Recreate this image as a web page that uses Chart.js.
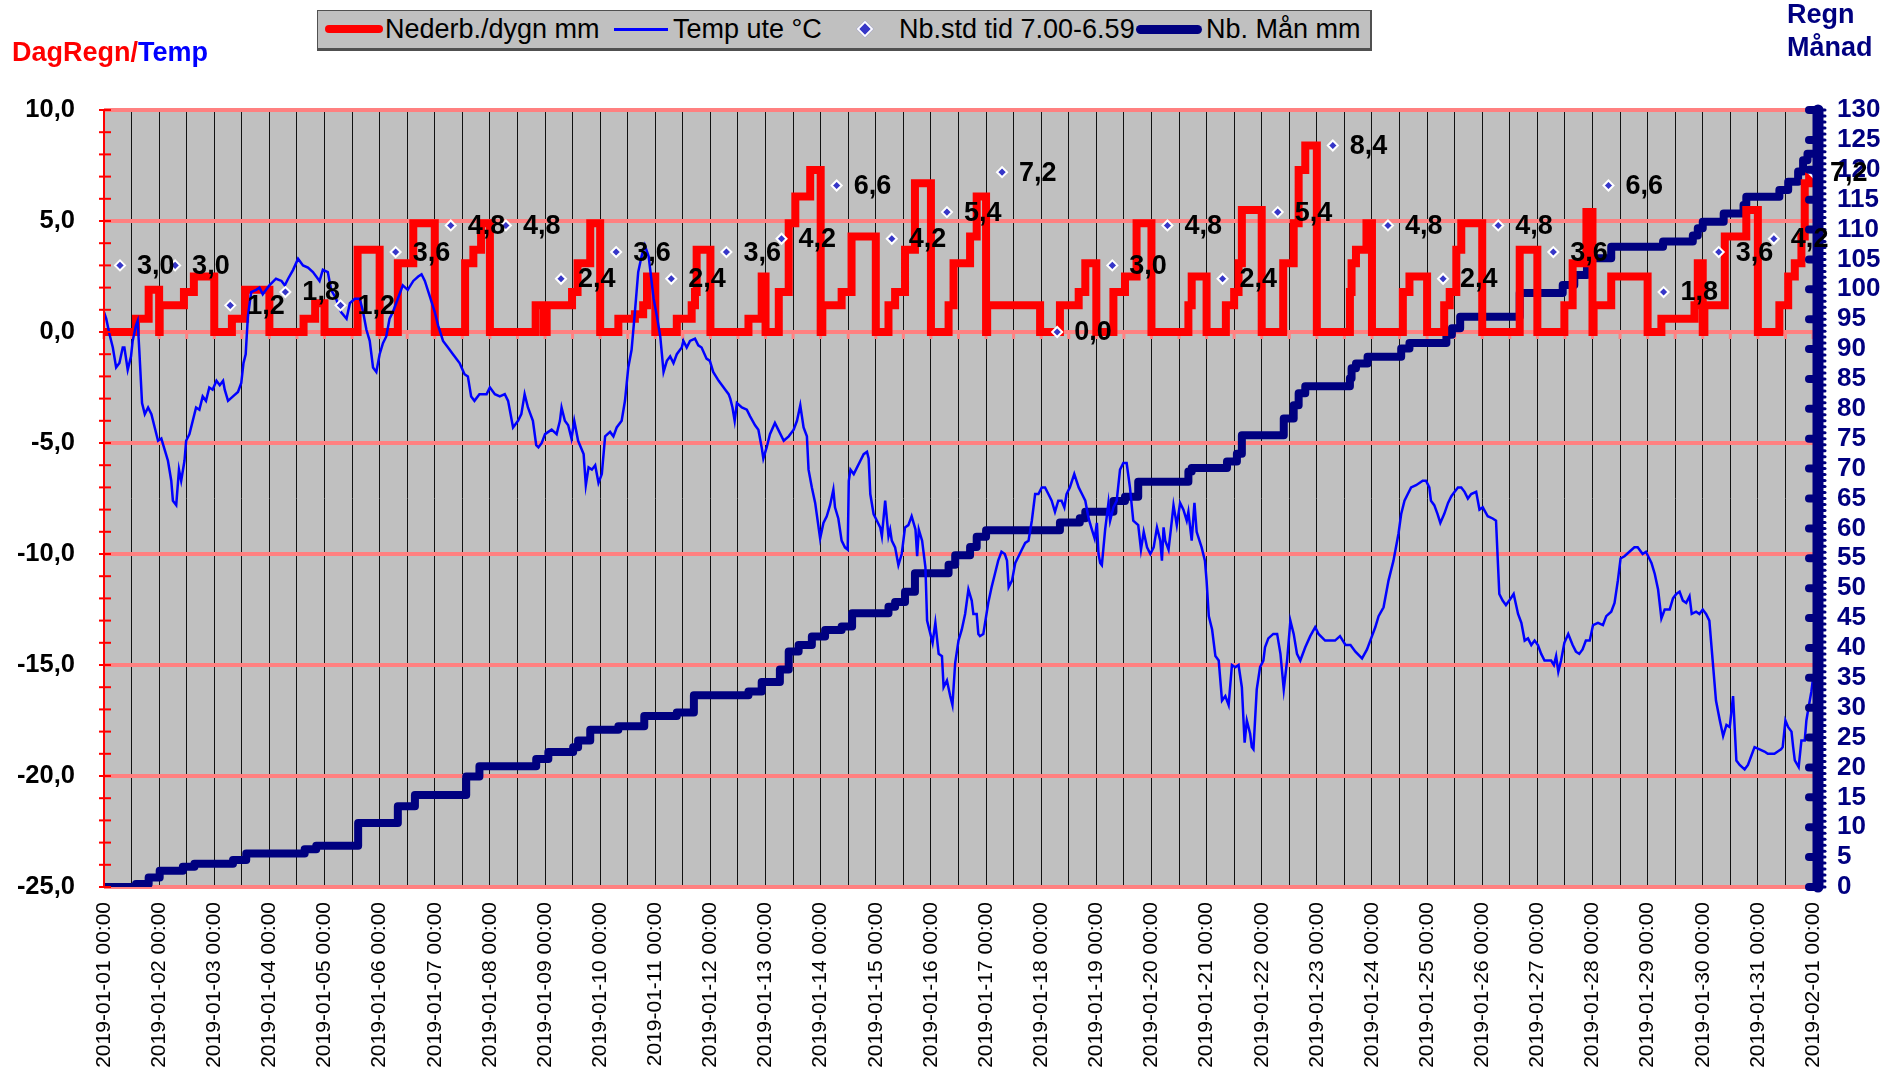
<!DOCTYPE html>
<html lang="sv">
<head>
<meta charset="utf-8">
<title>DagRegn/Temp</title>
<script src="https://cdn.jsdelivr.net/npm/chart.js@4.4.1/dist/chart.umd.min.js"></script>
<style>
  html, body { margin: 0; padding: 0; background: #fff; }
  #wrap { position: relative; width: 1899px; height: 1075px; overflow: hidden; font-family: Arial, "Liberation Sans", sans-serif; }
  #chart { position: absolute; left: 0; top: 0; }
  .title { position: absolute; font-weight: bold; font-size: 27px; white-space: nowrap; line-height: 30px; }
  #leftTitle { left: 12px; top: 37px; }
  #rightTitle { left: 1787px; top: -2px; color: #000080; line-height: 33px; }
  #legend { position: absolute; left: 317px; top: 10px; width: 1052px; height: 37px; background: #c0c0c0;
            border: 1px solid #505050; border-bottom-width: 3px; border-right-width: 2px; }
  #legend .txt { position: absolute; top: 0; height: 37px; line-height: 37px; font-size: 27px; white-space: nowrap; color: #000; }
  #legend .smp { position: absolute; }
</style>
</head>
<body>
<div id="wrap">
  <canvas id="chart" width="1899" height="1075"></canvas>
  <div class="title" id="leftTitle"><span style="color:#ff0000">DagRegn/</span><span style="color:#0000ff">Temp</span></div>
  <div class="title" id="rightTitle">Regn<br>Månad</div>
  <div id="legend">
    <div class="smp" style="left:7px; top:14px; width:58px; height:8px; background:#ff0000; border-radius:4px;"></div>
    <div class="txt" style="left:67px;">Nederb./dygn mm</div>
    <div class="smp" style="left:296px; top:17px; width:54px; height:3px; background:#0000ff;"></div>
    <div class="txt" style="left:355px;">Temp ute °C</div>
    <div class="smp" style="left:541px; top:12px; width:8px; height:8px; background:#3636c8; border:2px solid #fff; transform:rotate(45deg);"></div>
    <div class="txt" style="left:581px;">Nb.std tid 7.00-6.59</div>
    <div class="smp" style="left:818px; top:14px; width:66px; height:9px; background:#000080; border-radius:5px;"></div>
    <div class="txt" style="left:888px;">Nb. Mån mm</div>
  </div>
</div>
<script>
// Tick labels for the x axis (one per midnight)
const dateLabels = [
  '2019-01-01 00:00', '2019-01-02 00:00', '2019-01-03 00:00', '2019-01-04 00:00', '2019-01-05 00:00',
  '2019-01-06 00:00', '2019-01-07 00:00', '2019-01-08 00:00', '2019-01-09 00:00', '2019-01-10 00:00',
  '2019-01-11 00:00', '2019-01-12 00:00', '2019-01-13 00:00', '2019-01-14 00:00', '2019-01-15 00:00',
  '2019-01-16 00:00', '2019-01-17 00:00', '2019-01-18 00:00', '2019-01-19 00:00', '2019-01-20 00:00',
  '2019-01-21 00:00', '2019-01-22 00:00', '2019-01-23 00:00', '2019-01-24 00:00', '2019-01-25 00:00',
  '2019-01-26 00:00', '2019-01-27 00:00', '2019-01-28 00:00', '2019-01-29 00:00', '2019-01-30 00:00',
  '2019-01-31 00:00', '2019-02-01 00:00'
];

// Daily rain, [day, mm] - value holds from that time on
const rainSteps = [
  [0, 0], [0.58, 0.6], [0.81, 1.9], [1.0, 0], [1.01, 1.2], [1.45, 1.8], [1.63, 2.5], [2.0, 0],
  [2.32, 0.6], [2.56, 1.9], [3.0, 0], [3.62, 0.6], [3.83, 1.3], [4.0, 0], [4.6, 3.7], [5.0, 0],
  [5.33, 3.1], [5.61, 4.9], [6.0, 0], [6.55, 3.1], [6.7, 3.7], [6.84, 4.9], [7.0, 0],
  [7.83, 1.2], [7.98, 0], [8.03, 1.2], [8.49, 1.8], [8.59, 3.1], [8.82, 4.9], [9.0, 0],
  [9.33, 0.6], [9.63, 0.8], [9.78, 1.2], [9.85, 2.5], [10.0, 0],
  [10.39, 0.6], [10.66, 1.2], [10.72, 1.8], [10.75, 3.7], [11.0, 0],
  [11.69, 0.6], [11.93, 2.5], [12.0, 0], [12.24, 1.8], [12.42, 4.9], [12.54, 6.1], [12.81, 7.3], [13.0, 0],
  [13.03, 1.2], [13.38, 1.8], [13.56, 4.3], [14.0, 0],
  [14.23, 1.2], [14.35, 1.8], [14.53, 3.7], [14.71, 6.7], [15.0, 0],
  [15.32, 1.2], [15.41, 3.1], [15.71, 4.3], [15.83, 6.1], [16.0, 0], [16.02, 1.2], [16.98, 0],
  [17.34, 1.2], [17.68, 1.8], [17.8, 3.1], [18.0, 0],
  [18.31, 1.8], [18.52, 2.5], [18.73, 4.9], [19.0, 0],
  [19.67, 1.2], [19.73, 2.5], [20.0, 0],
  [20.35, 1.2], [20.5, 1.8], [20.58, 3.1], [20.64, 5.5], [21.0, 0],
  [21.39, 3.1], [21.58, 4.9], [21.67, 7.3], [21.79, 8.4], [22.0, 0],
  [22.6, 1.8], [22.63, 3.1], [22.71, 3.7], [22.9, 4.9], [23.0, 0],
  [23.56, 1.8], [23.68, 2.5], [24.0, 0],
  [24.31, 1.2], [24.41, 1.8], [24.53, 3.7], [24.62, 4.9], [25.0, 0],
  [25.68, 3.7], [26.0, 0],
  [26.49, 1.2], [26.64, 3.1], [26.89, 5.4], [27.0, 0], [27.02, 1.2], [27.34, 2.5], [28.0, 0],
  [28.25, 0.6], [28.85, 1.2], [28.91, 3.1], [29.0, 0], [29.03, 1.2], [29.4, 4.3], [29.79, 5.5], [30.0, 0],
  [30.39, 1.2], [30.55, 2.5], [30.67, 3.1], [30.79, 4.3], [30.85, 6.7], [30.93, 7.0], [31.0, 7.0]
];

// Month total, [day, mm] on the right axis
const monthSteps = [
  [0, 0], [0.58, 0.5], [0.81, 1.6], [1.01, 2.7], [1.43, 3.4], [1.64, 3.9], [2.34, 4.5], [2.58, 5.6],
  [3.64, 6.3], [3.85, 6.9], [4.61, 10.7], [5.33, 13.5], [5.64, 15.4], [6.57, 18.5], [6.81, 20.2],
  [7.84, 21.4], [8.06, 22.6], [8.51, 23.4], [8.6, 24.5], [8.82, 26.3], [9.33, 26.9], [9.8, 28.6],
  [10.39, 29.2], [10.7, 32.1], [11.69, 32.7], [11.93, 34.3], [12.26, 36.4], [12.42, 39.4], [12.6, 40.5],
  [12.84, 41.9], [13.08, 43.0], [13.38, 43.6], [13.57, 45.8], [14.23, 46.9], [14.35, 47.7], [14.53, 49.4],
  [14.71, 52.5], [15.32, 53.9], [15.44, 55.5], [15.71, 56.9], [15.83, 58.6], [16.0, 59.7],
  [17.34, 61.0], [17.7, 61.7], [17.8, 62.8], [18.31, 64.6], [18.52, 65.3], [18.76, 67.8],
  [19.67, 69.5], [19.73, 70.1], [20.37, 71.2], [20.55, 72.5], [20.64, 75.6],
  [21.4, 78.4], [21.58, 80.6], [21.67, 82.6], [21.79, 83.8], [22.6, 85.1], [22.63, 86.8], [22.71, 87.6],
  [22.92, 88.7], [23.53, 90.1], [23.68, 91.0], [24.35, 92.4], [24.45, 93.5], [24.6, 95.4],
  [25.68, 99.4], [26.46, 100.7], [26.67, 102.4], [26.9, 105.2], [27.34, 107.1], [28.28, 108.0],
  [28.82, 109.0], [28.91, 110.2], [29.0, 111.3], [29.38, 112.7], [29.74, 114.1], [29.79, 115.5],
  [30.39, 116.6], [30.55, 118.0], [30.73, 119.7], [30.82, 121.6], [30.9, 122.7], [31.0, 122.7]
];

// Outdoor temperature, [day, °C]
const tempSeries = [
  [0.00,0.9],[0.04,0.6],[0.10,-0.1],[0.16,-0.7],[0.22,-1.6],[0.28,-1.4],[0.34,-0.7],[0.37,-0.7],[0.43,-1.7],
  [0.49,-1.1],[0.52,-0.4],[0.58,0.3],[0.61,0.5],[0.64,-0.8],[0.69,-3.2],[0.74,-3.7],[0.80,-3.4],[0.86,-3.7],
  [0.92,-4.3],[0.98,-4.9],[1.04,-4.8],[1.10,-5.3],[1.16,-5.8],[1.22,-6.7],[1.25,-7.6],[1.31,-7.8],[1.36,-6.2],
  [1.40,-6.7],[1.46,-5.8],[1.49,-4.9],[1.55,-4.6],[1.67,-3.4],[1.73,-3.5],[1.79,-2.9],[1.85,-3.1],[1.91,-2.5],
  [1.97,-2.6],[2.04,-2.2],[2.10,-2.4],[2.16,-2.2],[2.19,-2.6],[2.25,-3.1],[2.34,-2.9],[2.43,-2.7],[2.49,-2.3],
  [2.53,-1.4],[2.57,-1.0],[2.61,0.7],[2.67,1.8],[2.76,1.9],[2.82,2.0],[2.88,1.7],[2.94,1.9],[3.00,2.1],
  [3.12,2.4],[3.22,2.3],[3.28,2.1],[3.34,2.4],[3.43,2.8],[3.52,3.3],[3.61,3.0],[3.70,2.9],[3.79,2.7],
  [3.91,2.3],[3.97,2.8],[4.06,2.7],[4.12,1.9],[4.21,1.5],[4.30,0.9],[4.40,0.6],[4.46,1.3],[4.55,1.5],
  [4.64,1.5],[4.70,0.9],[4.76,0.1],[4.82,-0.4],[4.88,-1.6],[4.94,-1.8],[5.00,-1.0],[5.06,-0.5],[5.12,-0.2],
  [5.18,0.6],[5.24,0.9],[5.33,1.5],[5.42,2.1],[5.51,1.9],[5.61,2.3],[5.70,2.5],[5.76,2.6],[5.82,2.3],
  [5.91,1.6],[6.00,0.9],[6.06,0.3],[6.15,-0.4],[6.24,-0.7],[6.33,-1.0],[6.45,-1.4],[6.54,-1.9],[6.60,-2.0],
  [6.66,-2.9],[6.72,-3.1],[6.81,-2.8],[6.94,-2.8],[7.00,-2.5],[7.09,-2.8],[7.18,-2.9],[7.27,-2.8],[7.33,-3.1],
  [7.42,-4.3],[7.51,-4.0],[7.57,-3.7],[7.63,-2.8],[7.69,-3.4],[7.78,-4.0],[7.84,-5.1],[7.88,-5.2],[7.94,-5.0],
  [8.00,-4.6],[8.06,-4.5],[8.12,-4.4],[8.21,-4.6],[8.27,-4.0],[8.30,-3.4],[8.36,-4.0],[8.42,-4.2],[8.48,-4.8],
  [8.53,-4.0],[8.60,-4.9],[8.70,-5.5],[8.74,-6.9],[8.79,-6.1],[8.85,-6.2],[8.91,-6.0],[8.97,-6.8],[9.03,-6.4],
  [9.09,-4.7],[9.18,-4.5],[9.24,-4.7],[9.30,-4.3],[9.39,-4.0],[9.45,-3.1],[9.51,-1.6],[9.57,-0.8],[9.63,0.9],
  [9.69,2.7],[9.75,3.4],[9.81,3.9],[9.88,3.4],[9.97,1.5],[10.03,0.7],[10.09,-0.2],[10.15,-1.8],[10.21,-1.3],
  [10.27,-1.1],[10.33,-1.4],[10.39,-1.0],[10.48,-0.7],[10.51,-0.4],[10.57,-0.7],[10.63,-0.4],[10.72,-0.3],
  [10.78,-0.6],[10.84,-0.7],[10.93,-1.2],[10.99,-1.3],[11.05,-1.8],[11.15,-2.2],[11.21,-2.4],[11.27,-2.6],
  [11.33,-2.8],[11.36,-3.0],[11.40,-3.4],[11.44,-4.0],[11.48,-3.2],[11.57,-3.4],[11.66,-3.5],[11.72,-3.8],
  [11.81,-4.2],[11.87,-4.4],[11.93,-5.2],[11.96,-5.7],[12.02,-5.2],[12.08,-4.6],[12.17,-4.1],[12.23,-4.4],
  [12.33,-4.9],[12.42,-4.7],[12.51,-4.4],[12.57,-4.0],[12.63,-3.3],[12.69,-4.3],[12.75,-4.7],[12.78,-6.2],
  [12.84,-7.0],[12.90,-7.7],[12.99,-9.3],[13.05,-8.6],[13.11,-8.3],[13.17,-7.8],[13.23,-7.1],[13.26,-7.9],
  [13.32,-8.4],[13.38,-9.4],[13.44,-9.7],[13.49,-9.8],[13.51,-6.7],[13.54,-6.2],[13.60,-6.4],[13.66,-6.1],
  [13.72,-5.8],[13.78,-5.5],[13.84,-5.4],[13.87,-5.7],[13.90,-7.3],[13.96,-8.2],[14.02,-8.5],[14.08,-8.8],
  [14.11,-9.2],[14.17,-7.6],[14.23,-9.2],[14.26,-8.9],[14.29,-9.4],[14.35,-9.7],[14.41,-10.5],[14.47,-10.0],
  [14.53,-8.8],[14.59,-8.7],[14.65,-8.3],[14.72,-8.9],[14.75,-10.1],[14.78,-8.9],[14.84,-9.4],[14.90,-10.6],
  [14.93,-13.0],[14.99,-13.6],[15.03,-14.0],[15.08,-13.1],[15.14,-14.5],[15.20,-14.6],[15.23,-16.0],
  [15.29,-15.7],[15.35,-16.4],[15.39,-16.8],[15.44,-14.9],[15.50,-13.9],[15.56,-13.4],[15.62,-12.7],
  [15.68,-11.6],[15.74,-12.1],[15.77,-12.7],[15.83,-12.7],[15.86,-13.6],[15.89,-13.7],[15.95,-13.6],
  [16.04,-12.2],[16.10,-11.5],[16.16,-10.9],[16.22,-10.3],[16.28,-9.9],[16.34,-10.0],[16.38,-10.3],
  [16.41,-11.5],[16.47,-11.2],[16.53,-10.4],[16.59,-10.1],[16.65,-9.8],[16.71,-9.5],[16.77,-9.4],[16.83,-8.5],
  [16.89,-7.3],[16.95,-7.3],[17.01,-7.0],[17.07,-7.0],[17.13,-7.3],[17.19,-7.6],[17.25,-8.1],[17.31,-7.6],
  [17.37,-7.6],[17.42,-7.9],[17.46,-7.3],[17.52,-7.0],[17.60,-6.4],[17.68,-7.0],[17.74,-7.3],[17.80,-7.6],
  [17.86,-8.4],[17.92,-8.9],[17.97,-9.3],[18.01,-8.6],[18.04,-10.0],[18.07,-10.4],[18.10,-10.5],[18.16,-8.9],
  [18.22,-7.7],[18.25,-8.5],[18.31,-7.9],[18.37,-7.6],[18.43,-6.2],[18.49,-5.9],[18.55,-5.9],[18.61,-7.0],
  [18.67,-8.5],[18.76,-8.7],[18.81,-9.8],[18.86,-9.0],[18.92,-9.7],[18.98,-10.0],[19.04,-9.7],[19.10,-8.8],
  [19.16,-9.4],[19.19,-10.3],[19.22,-8.8],[19.25,-9.4],[19.31,-9.8],[19.37,-8.5],[19.40,-7.8],[19.46,-8.7],
  [19.52,-7.7],[19.58,-8.0],[19.64,-8.5],[19.67,-8.1],[19.73,-9.4],[19.78,-7.7],[19.82,-9.0],[19.91,-9.7],
  [19.97,-10.3],[20.00,-11.2],[20.04,-12.8],[20.10,-13.4],[20.16,-14.6],[20.22,-14.8],[20.28,-16.6],
  [20.34,-16.4],[20.40,-16.8],[20.46,-15.0],[20.52,-15.1],[20.58,-15.0],[20.64,-16.0],[20.69,-18.5],
  [20.73,-17.5],[20.79,-18.1],[20.82,-18.7],[20.85,-18.8],[20.91,-16.1],[20.97,-15.1],[21.03,-14.8],
  [21.06,-14.2],[21.12,-13.8],[21.21,-13.6],[21.28,-13.6],[21.34,-14.5],[21.40,-16.1],[21.46,-14.8],
  [21.52,-13.0],[21.58,-13.6],[21.64,-14.5],[21.70,-14.8],[21.79,-14.2],[21.88,-13.7],[21.97,-13.3],
  [22.03,-13.6],[22.15,-13.9],[22.24,-13.9],[22.33,-13.9],[22.42,-13.7],[22.52,-14.1],[22.61,-14.1],
  [22.70,-14.4],[22.82,-14.7],[22.91,-14.3],[23.00,-13.7],[23.06,-13.3],[23.12,-12.8],[23.21,-12.4],
  [23.30,-11.2],[23.39,-10.3],[23.48,-9.1],[23.53,-8.2],[23.59,-7.6],[23.65,-7.3],[23.71,-7.0],[23.80,-6.9],
  [23.86,-6.8],[23.92,-6.7],[23.98,-6.7],[24.04,-7.0],[24.07,-7.6],[24.13,-7.8],[24.19,-8.2],[24.24,-8.6],
  [24.31,-8.2],[24.38,-7.7],[24.44,-7.4],[24.50,-7.2],[24.56,-7.0],[24.62,-7.0],[24.68,-7.2],[24.74,-7.5],
  [24.80,-7.3],[24.89,-7.2],[24.95,-8.0],[25.01,-7.9],[25.10,-8.3],[25.19,-8.4],[25.25,-8.5],[25.31,-11.8],
  [25.37,-12.1],[25.43,-12.3],[25.49,-12.1],[25.57,-11.8],[25.65,-12.7],[25.71,-13.1],[25.77,-13.9],
  [25.83,-13.8],[25.89,-14.1],[25.95,-13.9],[26.01,-14.1],[26.07,-14.5],[26.13,-14.8],[26.19,-14.8],
  [26.25,-14.8],[26.30,-15.0],[26.34,-14.6],[26.38,-15.3],[26.43,-14.8],[26.49,-14.0],[26.56,-13.6],
  [26.64,-14.1],[26.70,-14.4],[26.76,-14.5],[26.82,-14.3],[26.88,-13.9],[26.95,-13.9],[27.01,-13.2],
  [27.10,-13.1],[27.19,-13.2],[27.25,-12.8],[27.34,-12.6],[27.40,-12.2],[27.46,-11.2],[27.51,-10.2],
  [27.58,-10.1],[27.67,-9.9],[27.76,-9.7],[27.82,-9.7],[27.91,-10.0],[27.97,-9.9],[28.07,-10.4],[28.13,-10.9],
  [28.19,-11.6],[28.25,-12.9],[28.31,-12.5],[28.40,-12.5],[28.46,-12.0],[28.52,-11.8],[28.58,-11.7],
  [28.64,-12.1],[28.70,-12.2],[28.76,-11.9],[28.80,-12.7],[28.88,-12.6],[28.94,-12.7],[29.00,-12.5],
  [29.06,-12.7],[29.12,-13.0],[29.18,-14.8],[29.24,-16.6],[29.31,-17.5],[29.37,-18.2],[29.43,-17.7],
  [29.49,-17.8],[29.55,-16.4],[29.61,-19.3],[29.67,-19.5],[29.76,-19.7],[29.82,-19.5],[29.88,-19.1],
  [29.94,-18.7],[30.03,-18.8],[30.12,-18.9],[30.18,-19.0],[30.24,-19.0],[30.30,-19.0],[30.36,-18.9],
  [30.42,-18.8],[30.45,-18.7],[30.50,-17.5],[30.55,-17.8],[30.61,-18.0],[30.64,-18.7],[30.67,-19.3],
  [30.74,-19.6],[30.79,-18.4],[30.85,-18.4],[30.88,-17.5],[30.92,-16.9],[30.97,-16.2],[31.00,-15.6]
];

// Daily totals (7.00-6.59), shown as diamonds with labels
const dailyDays = [
  0.29, 1.29, 2.29, 3.29, 4.29, 5.29, 6.29, 7.29, 8.29, 9.29, 10.29, 11.29, 12.29, 13.29, 14.29, 15.29,
  16.29, 17.29, 18.29, 19.29, 20.29, 21.29, 22.29, 23.29, 24.29, 25.29, 26.29, 27.29, 28.29, 29.29, 30.29, 31.0
];
const dailyTotals = [
  3.0, 3.0, 1.2, 1.8, 1.2, 3.6, 4.8, 4.8, 2.4, 3.6, 2.4, 3.6, 4.2, 6.6, 4.2, 5.4,
  7.2, 0.0, 3.0, 4.8, 2.4, 5.4, 8.4, 4.8, 2.4, 4.8, 3.6, 6.6, 1.8, 3.6, 4.2, 7.2
];

const FONT = 'Arial, "Liberation Sans", sans-serif';
Chart.defaults.font.family = FONT;

// 3.6 -> "3,6"
function comma(v) {
  return Number(v).toFixed(1).replace('.', ',');
}

function toPoints(pairs) {
  return pairs.map(p => ({ x: p[0], y: p[1] }));
}

// Grey plot area, axis decorations and the labels next to the diamonds
const chartExtras = {
  id: 'chartExtras',
  beforeDraw(chart) {
    const { ctx, chartArea: a } = chart;
    ctx.save();
    ctx.fillStyle = '#c0c0c0';
    ctx.fillRect(a.left, a.top, a.right - a.left, a.bottom - a.top);
    ctx.restore();
  },
  beforeDatasetsDraw(chart) {
    const { ctx, scales } = chart;
    const y0 = scales.y.getPixelForValue(0);
    ctx.save();
    ctx.strokeStyle = '#ff8080';
    ctx.lineWidth = 3;
    scales.x.ticks.forEach(t => {
      const px = scales.x.getPixelForValue(t.value);
      ctx.beginPath();
      ctx.moveTo(px, y0);
      ctx.lineTo(px, y0 + 7);
      ctx.stroke();
    });
    ctx.restore();
  },
  afterDatasetsDraw(chart) {
    const { ctx, chartArea: a, scales } = chart;
    ctx.save();

    // left axis in red, small tick every degree
    ctx.strokeStyle = '#ff0000';
    ctx.lineWidth = 2;
    ctx.beginPath();
    ctx.moveTo(a.left, a.top);
    ctx.lineTo(a.left, a.bottom);
    ctx.stroke();
    for (let v = scales.y.min; v <= scales.y.max; v++) {
      const py = scales.y.getPixelForValue(v);
      ctx.beginPath();
      ctx.moveTo(a.left - 5, py);
      ctx.lineTo(a.left + 7, py);
      ctx.stroke();
    }

    // right axis, thick navy with round ticks
    const ax = a.right + 5;
    ctx.strokeStyle = '#000080';
    ctx.lineCap = 'round';
    ctx.lineWidth = 11;
    ctx.beginPath();
    ctx.moveTo(ax, a.top);
    ctx.lineTo(ax, a.bottom);
    ctx.stroke();
    ctx.lineWidth = 8;
    scales.y2.ticks.forEach(t => {
      const py = scales.y2.getPixelForValue(t.value);
      ctx.beginPath();
      ctx.moveTo(a.right - 4, py);
      ctx.lineTo(a.right + 2, py);
      ctx.stroke();
    });
    ctx.lineWidth = 3;
    for (let v = scales.y2.min; v <= scales.y2.max; v++) {
      const py = scales.y2.getPixelForValue(v);
      ctx.beginPath();
      ctx.moveTo(ax + 5, py);
      ctx.lineTo(ax + 7, py);
      ctx.stroke();
    }
    ctx.restore();
  },
  afterDraw(chart) {
    const { ctx } = chart;
    const meta = chart.getDatasetMeta(0);
    ctx.save();
    ctx.font = 'bold 27px ' + FONT;
    ctx.fillStyle = '#000';
    ctx.textAlign = 'left';
    ctx.textBaseline = 'middle';
    meta.data.forEach((pt, i) => {
      ctx.fillText(comma(dailyTotals[i]), pt.x + 17, pt.y + 1);
    });
    ctx.restore();
  }
};

const ctx = document.getElementById('chart').getContext('2d');

const config = {
  type: 'line',
  data: {
    datasets: [
      {
        label: 'Nb.std tid 7.00-6.59',
        data: dailyDays.map((d, i) => ({ x: d, y: dailyTotals[i] })),
        showLine: false,
        pointStyle: 'rectRot',
        pointRadius: 5,
        pointBackgroundColor: '#3636c8',
        pointBorderColor: '#ffffff',
        pointBorderWidth: 2,
        yAxisID: 'y',
        order: 0
      },
      {
        label: 'Temp ute °C',
        data: toPoints(tempSeries),
        borderColor: '#0000ff',
        borderWidth: 2.5,
        pointRadius: 0,
        tension: 0,
        yAxisID: 'y',
        order: 1
      },
      {
        label: 'Nederb./dygn mm',
        data: toPoints(rainSteps),
        borderColor: '#ff0000',
        borderWidth: 8,
        stepped: true,
        pointRadius: 0,
        yAxisID: 'y',
        order: 2
      },
      {
        label: 'Nb. Mån mm',
        data: toPoints(monthSteps),
        borderColor: '#000080',
        borderWidth: 8,
        stepped: true,
        borderJoinStyle: 'round',
        borderCapStyle: 'round',
        pointRadius: 0,
        yAxisID: 'y2',
        order: 3
      }
    ]
  },
  options: {
    responsive: false,
    animation: false,
    events: [],
    layout: { padding: { top: 110, left: 0, right: 0, bottom: 0 } },
    plugins: {
      legend: { display: false },
      tooltip: { enabled: false }
    },
    scales: {
      x: {
        type: 'linear',
        position: 'bottom',
        min: 0,
        max: 31,
        afterFit: s => { s.height = 188; },
        grid: { color: '#111111', lineWidth: 1, drawTicks: false },
        border: { display: false },
        ticks: {
          stepSize: 0.5,
          autoSkip: false,
          minRotation: 90,
          maxRotation: 90,
          padding: 15,
          color: '#000',
          font: { size: 21 },
          callback: v => (Number.isInteger(v) ? dateLabels[v] : '')
        }
      },
      y: {
        position: 'left',
        min: -25,
        max: 10,
        afterFit: s => { s.width = 104; },
        grid: { color: '#ff8080', lineWidth: 4, drawTicks: false },
        border: { display: false },
        ticks: {
          stepSize: 5,
          autoSkip: false,
          padding: 29,
          color: '#000',
          font: { size: 25.5, weight: 'bold' },
          callback: v => comma(v)
        }
      },
      y2: {
        position: 'right',
        min: 0,
        max: 130,
        afterFit: s => { s.width = 86; },
        grid: { drawOnChartArea: false, drawTicks: false },
        border: { display: false },
        ticks: {
          stepSize: 5,
          autoSkip: false,
          padding: 24,
          color: '#000080',
          font: { size: 26, weight: 'bold' }
        }
      }
    }
  },
  plugins: [chartExtras]
};

// Crear la gráfica
const rainChart = new Chart(ctx, config);
</script>
</body>
</html>
